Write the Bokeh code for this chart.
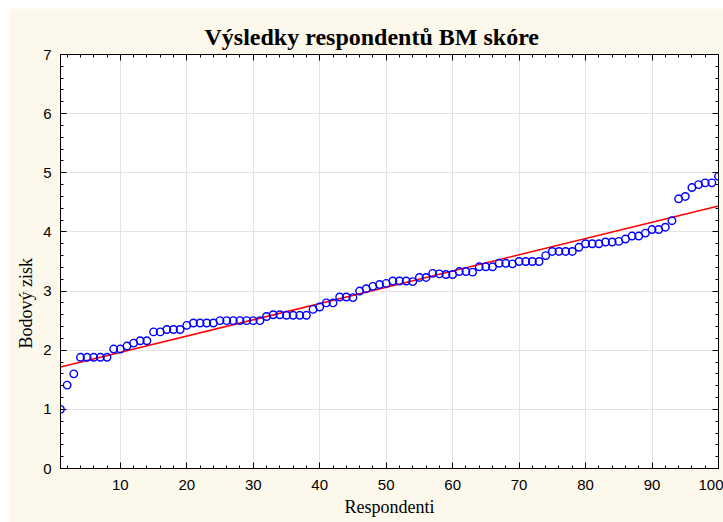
from bokeh.plotting import figure
from bokeh.models import Range1d, LinearAxis, FixedTicker, CustomJSTickFormatter, Title
from bokeh.embed import file_html
from bokeh.resources import INLINE
import numpy as np

# BM score of each respondent, sorted ascending
respondents = list(range(1, 101))
scores = [
    1.00, 1.41, 1.60, 1.88, 1.88, 1.88, 1.88, 1.88, 2.02, 2.02,
    2.07, 2.12, 2.16, 2.16, 2.31, 2.31, 2.35, 2.35, 2.35, 2.42,
    2.46, 2.46, 2.46, 2.46, 2.50, 2.50, 2.50, 2.50, 2.50, 2.50,
    2.50, 2.57, 2.60, 2.60, 2.59, 2.59, 2.59, 2.59, 2.69, 2.73,
    2.80, 2.80, 2.90, 2.90, 2.89, 3.00, 3.04, 3.08, 3.11, 3.13,
    3.17, 3.17, 3.17, 3.16, 3.23, 3.23, 3.30, 3.29, 3.28, 3.28,
    3.33, 3.33, 3.32, 3.41, 3.41, 3.41, 3.47, 3.47, 3.46, 3.50,
    3.50, 3.50, 3.50, 3.60, 3.67, 3.67, 3.67, 3.67, 3.74, 3.80,
    3.80, 3.80, 3.83, 3.83, 3.84, 3.88, 3.93, 3.93, 3.98, 4.04,
    4.04, 4.08, 4.19, 4.56, 4.60, 4.75, 4.80, 4.83, 4.83, 4.94,
]
x_ticks = [10, 20, 30, 40, 50, 60, 70, 80, 90, 100]
y_ticks = [0, 1, 2, 3, 4, 5, 6, 7]

# least-squares trend line
slope, intercept = np.polyfit(respondents, scores, 1)
fit_x = [respondents[0], respondents[-1]]
fit_y = [intercept + slope * v for v in fit_x]

BG = "#FDF8EC"
SERIF = "Liberation Serif"
SANS = "Liberation Sans"

p = figure(
    width=715, height=514,
    x_range=Range1d(1, 100), y_range=Range1d(0, 7),
    output_backend="svg", toolbar_location=None,
    background_fill_color="white", border_fill_color=BG,
    min_border_left=52, min_border_right=5, min_border_top=46, min_border_bottom=54,
    x_axis_label="Respondenti",
)
p.margin = (8, 0, 0, 8)
p.outline_line_color = "black"

p.title.text = "Výsledky respondentů BM skóre"
p.title.text_font = SERIF
p.title.text_font_size = "24px"
p.title.text_font_style = "bold"
p.title.align = "left"
p.title.offset = 144
p.title.text_color = "black"

xt = FixedTicker(ticks=x_ticks, minor_ticks=list(range(2, 101, 2)))
yt = FixedTicker(ticks=y_ticks, minor_ticks=[i / 5 for i in range(0, 36)])

for ax, t in ((p.xaxis[0], xt), (p.yaxis[0], yt)):
    ax.ticker = t
    ax.major_tick_in = 6
    ax.major_tick_out = 0
    ax.minor_tick_in = 3
    ax.minor_tick_out = 0
    ax.axis_line_color = "black"
    ax.major_tick_line_color = "black"
    ax.minor_tick_line_color = "black"
    ax.major_label_text_font = SANS
    ax.major_label_text_font_size = "15px"
    ax.major_label_text_color = "black"
    ax.axis_label_text_font = SERIF
    ax.axis_label_text_font_size = "18px"
    ax.axis_label_text_font_style = "normal"
    ax.axis_label_text_color = "black"

p.xaxis[0].major_label_standoff = 11
p.xaxis[0].axis_label_standoff = 4
p.yaxis[0].major_label_standoff = 9

# y axis caption, placed below the frame's middle
p.add_layout(Title(text="Bodový zisk", text_font=SERIF, text_font_size="18px",
                   text_font_style="normal", text_color="black",
                   align="left", offset=120, standoff=9), "left")

# unlabelled tick axes on the top and right edges of the frame
blank = CustomJSTickFormatter(code="return ''")
for side, t in (("right", yt), ("above", xt)):
    ax = LinearAxis(ticker=t, formatter=blank, major_tick_in=6, major_tick_out=0,
                    minor_tick_in=3, minor_tick_out=0, major_label_standoff=0,
                    axis_line_color="black")
    p.add_layout(ax, side)

p.xgrid.ticker = xt
p.ygrid.ticker = yt
p.grid.grid_line_color = "#E4E4E4"

p.line(fit_x, fit_y, line_color="#FF0000", line_width=1.5)
p.scatter(respondents, scores, marker="circle", size=7.5, fill_color=None,
          line_color="#0000FF", line_width=1.4)

open("out.html", "w").write(file_html(p, INLINE))
